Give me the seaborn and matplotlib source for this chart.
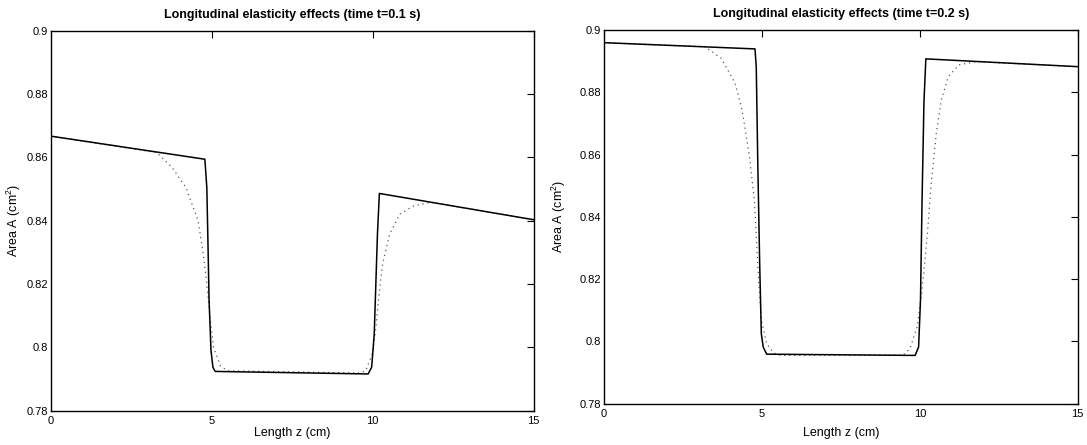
import matplotlib
matplotlib.use("Agg")
import matplotlib.pyplot as plt
import seaborn as sns
import pandas as pd

# t = 0.1 s
z_solid_1 = [0, 4.79, 4.85, 4.88, 4.92, 4.98, 5.04, 5.11, 9.86, 9.97, 10.05, 10.10, 10.15, 10.21, 15]
a_solid_1 = [0.8667, 0.8594, 0.8505, 0.836, 0.815, 0.799, 0.7937, 0.7924, 0.7916, 0.7937, 0.8042, 0.8200, 0.8358, 0.8486, 0.8403]
z_dot_1 = [0, 3.3, 3.77, 4.2, 4.58, 4.74, 4.85, 4.95, 5.06, 5.27, 5.49, 9.56, 9.78, 9.99, 10.1, 10.2,
           10.31, 10.53, 10.85, 11.28, 11.82, 15]
a_dot_1 = [0.8667, 0.8615, 0.8568, 0.8505, 0.840, 0.8295, 0.820, 0.8095, 0.800, 0.7942, 0.7926, 0.7919,
           0.7925, 0.798, 0.806, 0.8168, 0.8263, 0.8358, 0.8421, 0.8447, 0.8458, 0.8403]

# t = 0.2 s
z_solid_2 = [0, 4.78, 4.82, 4.87, 4.93, 4.98, 5.04, 5.15, 9.85, 9.96, 10.02, 10.07, 10.13, 10.19, 15]
a_solid_2 = [0.8959, 0.8939, 0.888, 0.856, 0.824, 0.8025, 0.7982, 0.7959, 0.7955, 0.7982, 0.8132, 0.8454, 0.877, 0.8907, 0.8882]
z_dot_2 = [0, 3.2, 3.71, 4.15, 4.37, 4.59, 4.76, 4.87, 4.98, 5.15, 5.37, 5.59, 9.47, 9.69, 9.91, 10.07,
           10.24, 10.35, 10.52, 10.68, 10.9, 11.24, 11.79, 15]
a_dot_2 = [0.8959, 0.8946, 0.8909, 0.8829, 0.8743, 0.8604, 0.8454, 0.824, 0.8068, 0.7993, 0.7963, 0.7955,
           0.7956, 0.7977, 0.8046, 0.8164, 0.8346, 0.8496, 0.8668, 0.8775, 0.885, 0.8888, 0.8898, 0.8882]

times = ["0.1", "0.2"]
x_ticks = [0, 5, 10, 15]
y_ticks = [0.78, 0.8, 0.82, 0.84, 0.86, 0.88, 0.9]
y_tick_labels = ["0.78", "0.8", "0.82", "0.84", "0.86", "0.88", "0.9"]

sns.set_style("white")
plt.rcParams['font.family'] = ['Liberation Sans', 'DejaVu Sans']
plt.rcParams['mathtext.fontset'] = 'custom'
plt.rcParams['mathtext.rm'] = 'Liberation Sans'
plt.rcParams['mathtext.it'] = 'Liberation Sans:italic'
plt.rcParams['text.color'] = 'black'
plt.rcParams['axes.labelcolor'] = 'black'

fig = plt.figure(figsize=(10.87, 4.45), dpi=100)
axes = [fig.add_axes([0.0466, 0.0771, 0.4443, 0.854]),
        fig.add_axes([0.5557, 0.0928, 0.4358, 0.840])]
# label positions (axes fraction) for each panel
xlabel_y = [-0.043, -0.062]
ylabel_x = [-0.057, -0.076]

panels = [(z_solid_1, a_solid_1, z_dot_1, a_dot_1), (z_solid_2, a_solid_2, z_dot_2, a_dot_2)]

for i, (ax, t, (zs, as_, zd, ad)) in enumerate(zip(axes, times, panels)):
    solid = pd.DataFrame({"z": zs, "A": as_})
    dotted = pd.DataFrame({"z": zd, "A": ad})
    sns.lineplot(data=dotted, x="z", y="A", ax=ax, sort=False, estimator=None,
                 color="0.35", linewidth=0.9, linestyle=(0, (1, 3)))
    sns.lineplot(data=solid, x="z", y="A", ax=ax, sort=False, estimator=None,
                 color="black", linewidth=1.1)
    ax.set_xlim(0, 15)
    ax.set_ylim(0.78, 0.9)
    ax.set_xticks(x_ticks)
    ax.set_xticklabels([str(v) for v in x_ticks])
    ax.set_yticks(y_ticks)
    ax.set_yticklabels(y_tick_labels)
    ax.tick_params(direction="in", length=5, width=0.8, top=True, right=True,
                   labelsize=8, colors="black")
    ax.tick_params(axis="x", pad=4)
    ax.tick_params(axis="y", pad=2)
    for s in ax.spines.values():
        s.set_color("black")
        s.set_linewidth(1.0)
    ax.set_title(f"Longitudinal elasticity effects (time t={t} s)", fontsize=9,
                 fontweight="bold", pad=9)
    ax.set_xlabel("Length z (cm)", fontsize=9)
    ax.set_ylabel(r"Area A (cm$^2$)", fontsize=9)
    ax.xaxis.set_label_coords(0.5, xlabel_y[i])
    ax.yaxis.set_label_coords(ylabel_x[i], 0.5)

fig.savefig("out.png", dpi=100)
